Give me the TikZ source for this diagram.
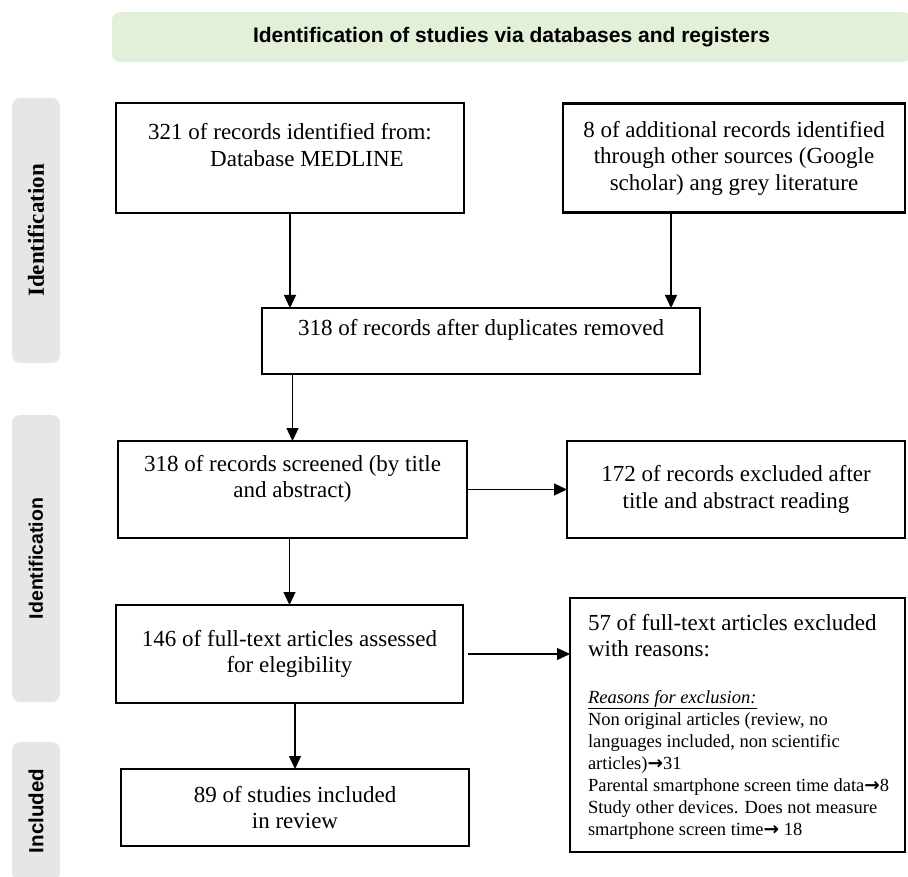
\documentclass[tikz,border=0pt]{standalone}
\usepackage{fontspec}
\setmainfont{Liberation Serif}
\newfontfamily\headfont{Liberation Sans}
\newfontfamily\arrowfont{DejaVu Sans}
\usepackage{tikz}
\usetikzlibrary{positioning}
\usetikzlibrary{arrows.meta}
\definecolor{headgreen}{HTML}{E2EFD9}
\definecolor{sidegrey}{HTML}{E6E6E6}
\newcommand{\toarrow}{{\arrowfont\bfseries →}}

\begin{document}
\begin{tikzpicture}[
    x=1pt, y=-1pt,
    node distance=67pt and 100pt,
    box/.style={draw, line width=2.8pt, outer sep=0pt, inner sep=0pt, align=center,
        font=\fontsize{23}{26.5}\selectfont},
    phase/.style={fill=sidegrey, rounded corners=8pt, rotate=90, minimum height=48pt,
        font=\headfont\bfseries\fontsize{19.5}{21}\selectfont},
    arrow/.style={-{Triangle[length=13pt, width=12pt]}, line width=1.3pt}
]
    \useasboundingbox (0,0) rectangle (908,877);

    % Header
    \node[fill=headgreen, rounded corners=8pt, minimum width=799pt, minimum height=50pt,
        font=\headfont\bfseries\fontsize{21}{24}\selectfont] (head) at (511.5,37)
        {Identification of studies via databases and registers};

    % Phase labels (left strip)
    \node[phase, minimum width=265pt, font=\bfseries\fontsize{23}{26}\selectfont] (phId) at (36,230.5) {Identification};
    \node[phase, minimum width=287pt] (phScr) at (36,558.5) {Identification};
    \node[phase, minimum width=138pt, font=\headfont\bfseries\fontsize{20.5}{22}\selectfont] (phInc) at (36,811) {Included};

    % Identification (the two sources)
    \node[box, minimum width=348pt, minimum height=110pt] (recDb) at (290,158)
        {321 of records identified from:\\ \hspace*{34pt}Database MEDLINE\\ ~};
    \node[box, right=99pt of recDb, minimum width=342pt, minimum height=109pt] (recOther)
        {8 of additional records identified\\ through other sources (Google\\ scholar) ang grey literature};
    \node[box, below=95pt of recDb, xshift=191pt, minimum width=438pt, minimum height=66pt] (recDedup)
        {318 of records after duplicates removed\\ ~};

    % Screening
    \node[box, below=of recDedup, xshift=-188.5pt, minimum width=349pt, minimum height=97pt] (recScreen)
        {318 of records screened (by title\\ and abstract)\\ ~};
    \node[box, right=of recScreen, minimum width=338pt, minimum height=97pt] (recExcl)
        {172 of records excluded after\\ title and abstract reading};

    % Eligibility
    \node[box, below=of recScreen, xshift=-3pt, minimum width=347pt, minimum height=98pt] (fullText)
        {146 of full-text articles assessed\\ for elegibility};
    \node[box, right=107pt of fullText, yshift=-71pt, inner ysep=16pt, align=left] (ftExcl)
        {\parbox[c][222pt][t]{335pt}{\raggedright\leftskip=18pt
        57 of full-text articles excluded\\
        with reasons:\par
        \vspace{24.5pt}
        \fontsize{18.5}{22}\selectfont
        \underline{\textit{Reasons for exclusion:}}\\
        Non original articles (review, no\\
        languages included, non scientific\\
        articles)\toarrow 31\\
        Parental smartphone screen time data\toarrow 8\\
        Study other devices. Does not measure\\
        smartphone screen time\toarrow{} 18}};

    % Included
    \node[box, below=66pt of fullText, xshift=5.5pt, minimum width=348pt, minimum height=77pt] (included)
        {89 of studies included\\ in review};

    % Arrows
    \draw[arrow] (recDb.south) -- (recDb.south |- recDedup.north);
    \draw[arrow] ([xshift=-63pt]recOther.south) -- ([xshift=-63pt]recOther.south |- recDedup.north);
    \draw[arrow] (recScreen.north |- recDedup.south) -- (recScreen.north);
    \draw[arrow] (recScreen.east) -- (recExcl.west);
    \draw[arrow] (fullText.north |- recScreen.south) -- (fullText.north);
    \draw[arrow, shorten <=5pt] (fullText.east) -- (fullText.east -| ftExcl.west);
    \draw[arrow] (included.north |- fullText.south) -- (included.north);
\end{tikzpicture}
\end{document}
